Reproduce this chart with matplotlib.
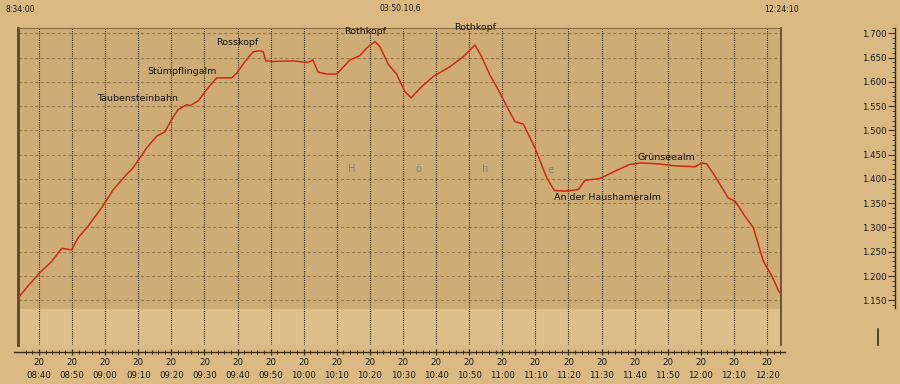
import matplotlib
matplotlib.use("Agg")
import matplotlib.pyplot as plt
from matplotlib.lines import Line2D

# ---------------- data ----------------
start_label = "8:34:00"
duration_label = "03:50.10,6"
end_label = "12:24:10"
start_minute = 8 * 60 + 34          # 08:34:00
end_minute_offset = 230.17          # 12:24:10

# minutes after 08:34:00
minutes = [0.3, 3.1, 6.6, 10.2, 13.2, 16.2, 18.2, 21.2, 25.3, 28.8, 32.8, 34.8,
           38.9, 41.9, 44.4, 46.4, 48.4, 51.0, 52.0, 54.5, 57.0, 60.0, 64.6,
           66.1, 68.6, 71.1, 73.1, 74.1, 74.9, 77.1, 83.2, 87.7, 89.1, 90.7,
           93.3, 96.3, 100.3, 103.3, 105.4, 107.9, 109.4, 111.9, 114.4, 116.9,
           118.8, 121.5, 125.5, 130.5, 134.6, 138.1, 140.1, 142.6, 145.1, 148.2,
           150.2, 152.7, 156.2, 159.8, 162.1, 165.3, 169.3, 171.3, 175.9, 180.4,
           184.9, 188.5, 193.5, 198.5, 204.6, 206.6, 208.1, 210.6, 214.6, 216.7,
           219.7, 222.2, 225.2, 227.8, 230.1]
elevation = [1157, 1180, 1207, 1230, 1257, 1254, 1279, 1303, 1341, 1378, 1409, 1423,
             1464, 1488, 1497, 1522, 1543, 1553, 1551, 1561, 1584, 1608, 1608,
             1618, 1642, 1662, 1664, 1662, 1643, 1642, 1643, 1640, 1645, 1620,
             1616, 1616, 1645, 1654, 1670, 1683, 1672, 1636, 1616, 1580,
             1567, 1587, 1611, 1631, 1652, 1676, 1652, 1614, 1584, 1543,
             1518, 1513, 1464, 1402, 1376, 1375, 1378, 1397, 1401, 1416,
             1430, 1433, 1431, 1427, 1425, 1433, 1431, 1406, 1361, 1354,
             1323, 1300, 1231, 1200, 1166]

tick_times = ["08:40", "08:50", "09:00", "09:10", "09:20", "09:30", "09:40",
              "09:50", "10:00", "10:10", "10:20", "10:30", "10:40", "10:50",
              "11:00", "11:10", "11:20", "11:30", "11:40", "11:50", "12:00",
              "12:10", "12:20"]
tick_seconds = 20

y_ticks = [1150, 1200, 1250, 1300, 1350, 1400, 1450, 1500, 1550, 1600, 1650, 1700]
y_tick_labels = ["1.150", "1.200", "1.250", "1.300", "1.350", "1.400", "1.450",
                 "1.500", "1.550", "1.600", "1.650", "1.700"]

places = ["Taubensteinbahn", "Stümpflingalm", "Rosskopf", "Rothkopf", "Rothkopf",
          "An der Haushameralm", "Grünseealm"]
place_minutes = [36.1, 49.7, 66.2, 105.0, 138.1, 178.0, 196.0]
place_elev = [1565, 1622, 1682, 1703, 1711, 1361, 1445]

axis_letters = ["H", "ö", "h", "e"]
letter_minutes = [100.9, 120.9, 140.8, 160.8]
letter_elev = [1420, 1420, 1420, 1418]

# ---------------- style ----------------
BG = "#dab982"
UPPER = "#ceac76"
LOWER = "#dcbf8b"
DARK = "#5a4628"
GRIDH = "#9a7a50"
GRIDV = "#3a2e1c"
RED = "#d02a12"

W, H = 900, 384
fig = plt.figure(figsize=(W / 100, H / 100), dpi=100, facecolor=BG)
plt.rcParams['font.family'] = ['DejaVu Sans']

ymin, ymax = 1057.9, 1710.9
shade_bottom = 1132.1
xmax = 230.57
px_per_min = 3.309

ax = fig.add_axes([18 / W, (H - 345) / H, 763 / W, 317 / H])
ax.set_xlim(0, xmax)
ax.set_ylim(ymin, ymax)
ax.set_facecolor(LOWER)
ax.axhspan(shade_bottom, ymax, color=UPPER, zorder=0, lw=0)

tick_pos = []
for t in tick_times:
    h, m = t.split(":")
    tick_pos.append(int(h) * 60 + int(m) + tick_seconds / 60 - start_minute)

for v in y_ticks:
    ax.axhline(v, color=GRIDH, ls=(0, (3, 2)), lw=0.8, zorder=1)
for t in tick_pos:
    ax.axvline(t, color=GRIDV, ls=(0, (1, 1)), lw=0.8, zorder=1)

ax.plot(minutes, elevation, color=RED, lw=1.1, zorder=3)

for name, t, e in zip(places, place_minutes, place_elev):
    ax.text(t, e, name, ha="center", va="center", fontsize=6.8,
            color="#141414", zorder=4, clip_on=False)
for ch, t, e in zip(axis_letters, letter_minutes, letter_elev):
    ax.text(t, e, ch, ha="center", va="center", fontsize=7.2,
            color="#8a8070", zorder=2)

ax.set_xticks([])
ax.set_yticks([])
ax.spines["bottom"].set_visible(False)
ax.spines["left"].set_color(DARK)
ax.spines["left"].set_linewidth(2)
ax.spines["right"].set_color(DARK)
ax.spines["right"].set_linewidth(1.2)
ax.spines["top"].set_color("#8a6c44")
ax.spines["top"].set_linewidth(0.8)

# ---------- x axis (separate strip) ----------
axx = fig.add_axes([14 / W, (H - 352) / H, 771 / W, 1e-5])
axx.set_xlim(-(18.04 - 14) / px_per_min, (785 - 18.04) / px_per_min)
axx.set_facecolor("none")
for s in ["top", "left", "right"]:
    axx.spines[s].set_visible(False)
axx.spines["bottom"].set_color(GRIDV)
axx.spines["bottom"].set_linewidth(1.0)
axx.set_yticks([])
axx.set_xticks(tick_pos)
axx.set_xticklabels([f"{tick_seconds}\n{t}" for t in tick_times],
                    fontsize=6.2, color="#1a1a1a", linespacing=1.55)
minor = []
k = tick_pos[0] - 4
while k < axx.get_xlim()[1]:
    if k > axx.get_xlim()[0]:
        minor.append(k)
    k += 2
axx.set_xticks(minor, minor=True)
axx.tick_params(axis="x", which="major", direction="inout", length=5,
                width=1, color=GRIDV, pad=2)
axx.tick_params(axis="x", which="minor", direction="inout", length=3,
                width=0.8, color=GRIDV)

# ---------- y axis on the far right ----------
axy = fig.add_axes([895 / W, (H - 345) / H, 1e-5, 317 / H])
axy.set_ylim(ymin, ymax)
axy.set_facecolor("none")
for s in ["top", "bottom", "right"]:
    axy.spines[s].set_visible(False)
axy.spines["left"].set_color(GRIDV)
axy.spines["left"].set_linewidth(1.0)
axy.spines["left"].set_bounds(1134, ymax)
axy.set_xticks([])
axy.set_yticks(y_ticks)
axy.set_yticklabels(y_tick_labels, fontsize=6.2, color="#1a1a1a")
axy.set_yticks(list(range(1140, 1711, 10)), minor=True)
axy.tick_params(axis="y", which="major", direction="out", length=5,
                width=0.8, color=GRIDV, pad=1)
axy.tick_params(axis="y", which="minor", direction="out", length=2,
                width=0.6, color=GRIDV)

# stray mark under the value axis
fig.add_artist(Line2D([878 / W, 878 / W], [(H - 329) / H, (H - 345) / H],
                      color=GRIDV, lw=1.2))

# ---------- header texts ----------
fig.text(6 / W, 1 - 9 / H, start_label, ha="left", va="center",
         fontsize=5.6, color="#1a1a1a")
fig.text(400 / W, 1 - 9 / H, duration_label, ha="center", va="center",
         fontsize=5.6, color="#1a1a1a")
fig.text(781 / W, 1 - 9 / H, end_label, ha="center", va="center",
         fontsize=5.6, color="#1a1a1a")

fig.savefig("out.png", dpi=100, facecolor=BG)
